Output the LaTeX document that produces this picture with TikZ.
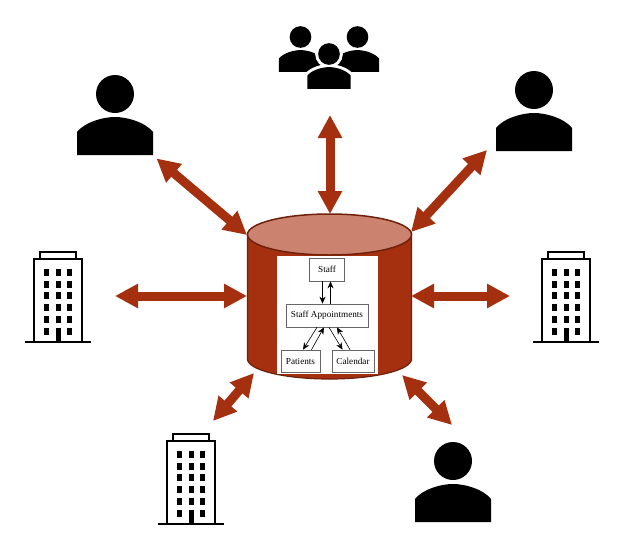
\documentclass[tikz,border=0pt]{standalone}
\usepackage{fontspec}
\setmainfont{Liberation Serif}
\usetikzlibrary{arrows.meta}
\definecolor{rust}{HTML}{A5300F}
\definecolor{rustlight}{HTML}{CB8370}
\definecolor{rustdark}{HTML}{6E200A}
\tikzset{
  bigarrow/.style={line width=9pt,rust,{Triangle[length=23pt,width=23pt]}-{Triangle[length=23pt,width=23pt]}},
  tablebox/.style={draw=black!60,fill=white,line width=0.7pt,inner sep=0pt,font=\fontsize{9.2}{11}\selectfont},
  thinarrow/.style={-{Stealth[length=7pt,width=6pt]},line width=0.6pt},
  person/.pic={
    \path[pic actions] (0,0) circle (19);
    \path[pic actions] (-38,61) -- (-38,38) .. controls (-30,28) and (-12,23) .. (0,23)
      .. controls (12,23) and (30,28) .. (38,38) -- (38,61) -- cycle;
  },
  building/.pic={
    \draw[line width=2.2pt,fill=white] (-18,-83) rectangle (18,-90);
    \draw[line width=2.2pt,fill=white] (-24,0) -- (-24,-83) -- (24,-83) -- (24,0);
    \draw[line width=2.2pt] (-33,0) -- (33,0);
    \foreach \row in {-70,-58,-46.5,-35,-23,-11}
      \foreach \col in {-11.7,0,11.7}
        \fill (\col-2.5,\row-3.5) rectangle (\col+2.5,\row+3.5);
    \fill (-2.5,-14) rectangle (2.5,0);
  }
}
\begin{document}
\begin{tikzpicture}[x=1pt,y=-1pt,>=Stealth]
\useasboundingbox (0,0) rectangle (622,539);
% users
\pic[fill=black] at (115,94) {person};
\pic[fill=black] at (534,90) {person};
\pic[fill=black] at (453,461) {person};
% group of users
\pic[fill=black,scale=.57] at (300.5,37) {person};
\pic[fill=black,scale=.57] at (357.5,37) {person};
\pic[fill=white,draw=white,line width=6pt,scale=.57] at (329,54) {person};
\pic[fill=black,scale=.57] at (329,54) {person};
% buildings
\pic at (58,342) {building};
\pic at (566,342) {building};
\pic at (191,524) {building};
% database cylinder
\draw[rustdark,fill=rust,line width=1.2pt] (247.5,234.5) -- (247.5,359)
  arc[start angle=180,end angle=360,x radius=82,y radius=-20] -- (411.5,234.5) -- cycle;
\draw[rustdark,fill=rustlight,line width=1.5pt] (329.5,234.5) ellipse (82 and 20.5);
\fill[white] (276.5,256) rectangle (378,374);
% tables
\node[tablebox,minimum width=35pt,minimum height=23pt] (staff) at (327,269.5) {Staff};
\node[tablebox,minimum width=82pt,minimum height=23pt] (appts) at (327,315.5) {Staff Appointments};
\node[tablebox,minimum width=39pt,minimum height=22pt] (patients) at (300.5,361) {Patients};
\node[tablebox,minimum width=42pt,minimum height=22pt] (calendar) at (353,361) {Calendar};
\draw[thinarrow] ([xshift=-4.5pt]staff.south) -- ([xshift=-4.5pt]appts.north);
\draw[thinarrow] ([xshift=3.5pt]appts.north) -- ([xshift=3.5pt]staff.south);
\draw[thinarrow] ([xshift=-10pt]appts.south) -- ([xshift=2.5pt]patients.north);
\draw[thinarrow] ([xshift=11pt]patients.north) -- ([xshift=-3pt]appts.south);
\draw[thinarrow] ([xshift=2pt]appts.south) -- ([xshift=-10.5pt]calendar.north);
\draw[thinarrow] ([xshift=-3pt]calendar.north) -- ([xshift=10pt]appts.south);
% ends of the links
\coordinate (dbtop) at (330,214);
\coordinate (dbnw) at (247,235);
\coordinate (dbne) at (411,232);
\coordinate (dbw) at (247,296);
\coordinate (dbe) at (411,296);
\coordinate (dbsw) at (254,373);
\coordinate (dbse) at (402,375);
\coordinate (grouplink) at (330,115);
\coordinate (userlinkA) at (156.5,158.5);
\coordinate (userlinkB) at (487,150);
\coordinate (userlinkC) at (452,425);
\coordinate (bldlinkA) at (115,296);
\coordinate (bldlinkB) at (510,296);
\coordinate (bldlinkC) at (213,421);
% links
\draw[bigarrow] (grouplink) -- (dbtop);
\draw[bigarrow] (userlinkA) -- (dbnw);
\draw[bigarrow] (userlinkB) -- (dbne);
\draw[bigarrow] (bldlinkA) -- (dbw);
\draw[bigarrow] (bldlinkB) -- (dbe);
\draw[bigarrow] (bldlinkC) -- (dbsw);
\draw[bigarrow] (userlinkC) -- (dbse);
\end{tikzpicture}
\end{document}
